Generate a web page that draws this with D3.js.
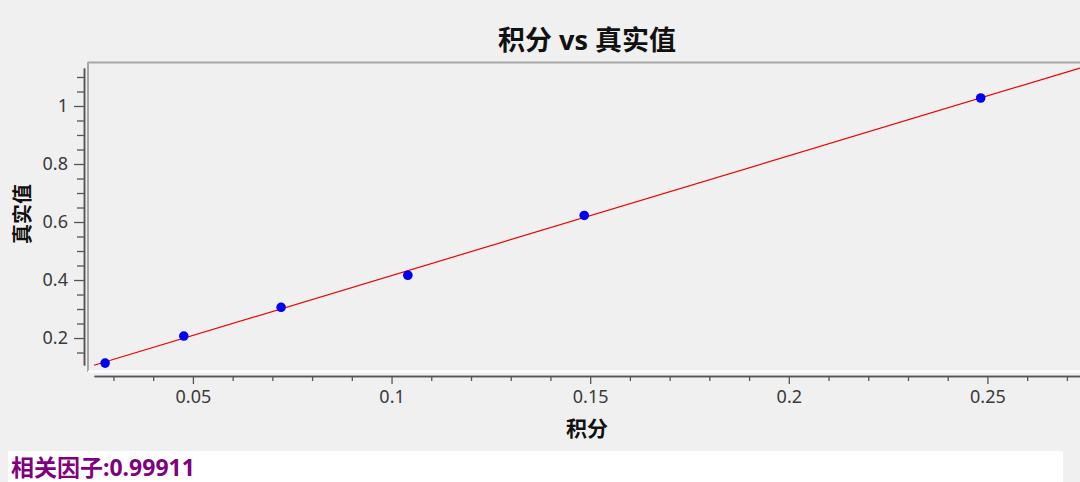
<!DOCTYPE html>
<html><head><meta charset="utf-8">
<script src="https://cdn.jsdelivr.net/npm/d3@7"></script>
<style>
html,body{margin:0;padding:0;background:#f0f0f0;}
svg{display:block;}
</style></head>
<body>
<svg id="chart" width="1080" height="482"></svg>
<script>
// ---- data ----
const title = "积分 vs 真实值";
const xLabel = "积分";
const yLabel = "真实值";
const corrText = "相关因子:0.99911";
const integrals = [0.0279, 0.0477, 0.0722, 0.1041, 0.1485, 0.2483];
const trueValues = [0.1136, 0.2068, 0.3060, 0.4164, 0.6226, 1.0276];
const xTickValues = [0.05, 0.1, 0.15, 0.2, 0.25];
const yTickValues = [0.2, 0.4, 0.6, 0.8, 1];
const xDomain = [0.0251, 0.2733];
const yDomain = [0.107, 1.131];

const svg = d3.select("#chart");
const W = 1080, H = 482;
svg.append("rect").attr("width", W).attr("height", H).attr("fill", "#f0f0f0");

const x = d3.scaleLinear().domain(xDomain).range([94, 1080]);
const y = d3.scaleLinear().domain(yDomain).range([365, 68]);

const font = "'Noto Sans','Noto Sans CJK SC',sans-serif";

// title
svg.append("text").attr("x", 587).attr("y", 50).attr("text-anchor", "middle")
  .attr("font-family", font).attr("font-size", 27).attr("font-weight", "bold")
  .attr("fill", "#111").text(title);

// plot frame
svg.append("line").attr("x1", 88).attr("x2", 1080).attr("y1", 62.5).attr("y2", 62.5)
  .attr("stroke", "#a8a8a8").attr("stroke-width", 2);
svg.append("line").attr("x1", 88).attr("x2", 88).attr("y1", 62).attr("y2", 372)
  .attr("stroke", "#a8a8a8").attr("stroke-width", 2);
svg.append("line").attr("x1", 88).attr("x2", 1080).attr("y1", 371.5).attr("y2", 371.5)
  .attr("stroke", "#ffffff").attr("stroke-width", 2);

// minor ticks
const xMinor = d3.range(3, 28).map(d => d / 100).filter(d => !xTickValues.some(t => Math.abs(t - d) < 1e-9));
const yMinor = d3.range(3, 23).map(d => d / 20).filter(d => !yTickValues.some(t => Math.abs(t - d) < 1e-9));

const xAxis = svg.append("g").attr("transform", "translate(0,376)")
  .call(d3.axisBottom(x).tickValues(xTickValues).tickSize(8).tickSizeOuter(0).tickPadding(6).tickFormat(d3.format("~g")));
const xAxisMinor = svg.append("g").attr("transform", "translate(0,376)")
  .call(d3.axisBottom(x).tickValues(xMinor).tickSize(5).tickSizeOuter(0).tickFormat(""));
const yAxis = svg.append("g").attr("transform", "translate(84,0)")
  .call(d3.axisLeft(y).tickValues(yTickValues).tickSize(10).tickSizeOuter(0).tickPadding(6).tickFormat(d3.format("~g")));
const yAxisMinor = svg.append("g").attr("transform", "translate(84,0)")
  .call(d3.axisLeft(y).tickValues(yMinor).tickSize(7).tickSizeOuter(0).tickFormat(""));

[xAxis, xAxisMinor, yAxis, yAxisMinor].forEach(g => {
  g.select(".domain").attr("stroke", "#555").attr("stroke-width", 1.5);
  g.selectAll(".tick line").attr("stroke", "#555").attr("stroke-width", 1.3);
  g.selectAll(".tick text").attr("font-family", font).attr("font-size", 18).attr("fill", "#3a3a3a");
});

// axis labels
svg.append("text").attr("x", 587).attr("y", 436).attr("text-anchor", "middle")
  .attr("font-family", font).attr("font-size", 21).attr("font-weight", "bold")
  .attr("fill", "#111").text(xLabel);
svg.append("text").attr("transform", "translate(30,214) rotate(-90)").attr("text-anchor", "middle")
  .attr("font-family", font).attr("font-size", 20).attr("font-weight", "bold")
  .attr("fill", "#111").text(yLabel);

// regression line (least squares through the points)
const mx = d3.mean(integrals), my = d3.mean(trueValues);
let sxy = 0, sxx = 0;
integrals.forEach((v, i) => { sxy += (v - mx) * (trueValues[i] - my); sxx += (v - mx) * (v - mx); });
const slope = sxy / sxx, intercept = my - slope * mx;

svg.append("defs").append("clipPath").attr("id", "clip")
  .append("rect").attr("x", 89).attr("y", 64).attr("width", 991).attr("height", 306);

const plot = svg.append("g").attr("clip-path", "url(#clip)");
plot.append("line")
  .attr("x1", x(xDomain[0])).attr("y1", y(slope * xDomain[0] + intercept))
  .attr("x2", x(xDomain[1])).attr("y2", y(slope * xDomain[1] + intercept))
  .attr("stroke", "#f00000").attr("stroke-width", 1.2);

plot.selectAll("circle").data(integrals).join("circle")
  .attr("cx", d => x(d)).attr("cy", (d, i) => y(trueValues[i]))
  .attr("r", 4.8).attr("fill", "#0000f0");

// correlation box
svg.append("rect").attr("x", 8).attr("y", 451).attr("width", 1055).attr("height", 31).attr("fill", "#ffffff");
svg.append("text").attr("x", 11).attr("y", 476)
  .attr("font-family", font).attr("font-size", 23).attr("font-weight", "bold")
  .attr("fill", "#800080").text(corrText);
</script>
</body></html>
